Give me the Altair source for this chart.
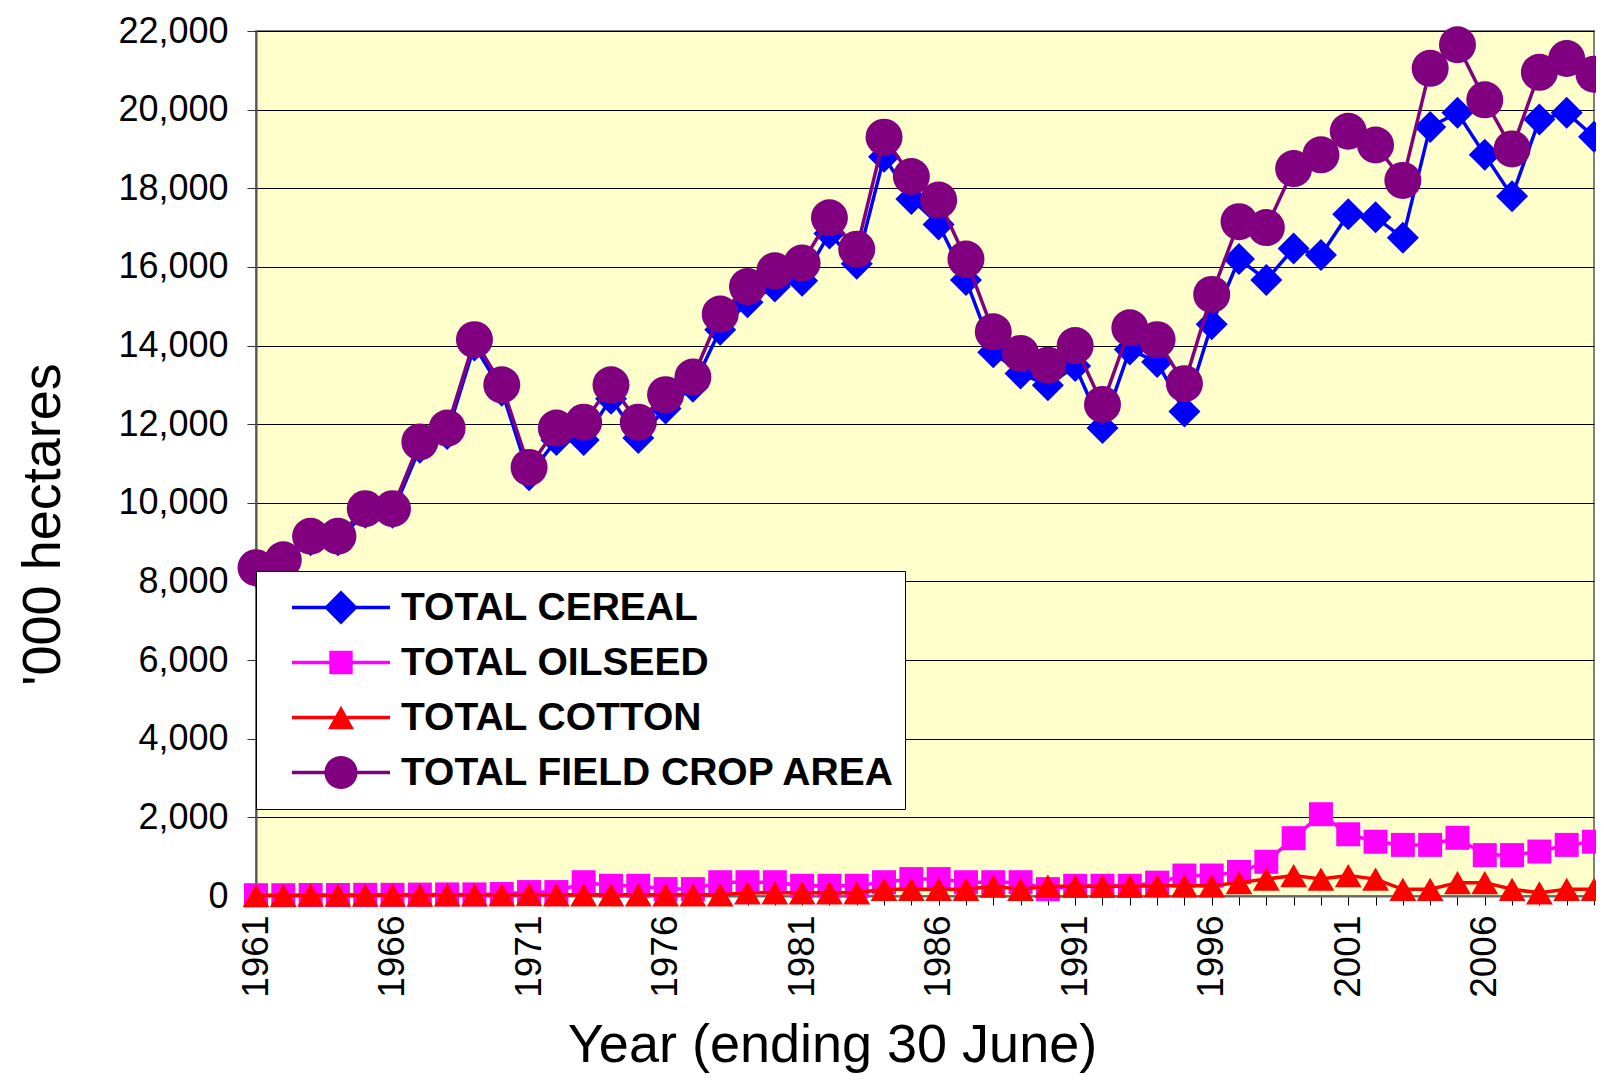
import math
import altair as alt
import pandas as pd

years = list(range(1961, 2011))

cereal = [8250, 8450, 9050, 9050, 9750, 9750, 11400, 11750, 14000, 12850,
          10700, 11600, 11600, 12650, 11650, 12400, 12950, 14400, 15100, 15500,
          15650, 16850, 16080, 18800, 17730, 17080, 15670, 13830, 13290, 12990,
          13480, 11900, 13900, 13580, 12320, 14540, 16200, 15670, 16470, 16300,
          17340, 17260, 16740, 19560, 19920, 18850, 17800, 19750, 19920, 19310]

oilseed = [20, 20, 25, 25, 30, 30, 35, 40, 40, 50,
           100, 100, 350, 260, 260, 175, 175, 350, 350, 350,
           260, 260, 260, 350, 430, 430, 350, 350, 350, 175,
           260, 260, 260, 340, 520, 520, 610, 870, 1470, 2080,
           1570, 1380, 1300, 1300, 1480, 1040, 1040, 1130, 1300, 1380]

cotton = [10, 15, 20, 20, 20, 25, 25, 30, 30, 30,
          35, 30, 30, 30, 30, 30, 30, 30, 80, 80,
          80, 80, 80, 170, 170, 170, 170, 250, 170, 250,
          250, 250, 250, 260, 260, 260, 340, 430, 520, 430,
          520, 430, 170, 170, 340, 340, 170, 80, 170, 170]

field = [8350, 8550, 9150, 9150, 9850, 9850, 11550, 11900, 14150, 13000,
         10900, 11900, 12050, 13000, 12050, 12750, 13200, 14800, 15500, 15900,
         16100, 17250, 16450, 19300, 18300, 17700, 16200, 14350, 13800, 13500,
         14000, 12500, 14450, 14150, 13030, 15300, 17150, 17000, 18500, 18850,
         19450, 19100, 18200, 21050, 21650, 20250, 19000, 20950, 21300, 20900]

series_names = ["TOTAL CEREAL", "TOTAL OILSEED", "TOTAL COTTON", "TOTAL FIELD CROP AREA"]
series_colors = ["#0000FF", "#FF00FF", "#FF0000", "#800080"]
y_ticks = list(range(0, 22001, 2000))

rows = []
for name, vals in zip(series_names, [cereal, oilseed, cotton, field]):
    for yr, v in zip(years, vals):
        rows.append({"year": yr, "value": v, "series": name})
df = pd.DataFrame(rows)

FONT = "Liberation Sans"
BG = "#FFFFCC"

# ---- legend symbols: line + marker as one custom path (unit square coords) ----
LX0, LX1, T = -0.585, 0.923, 0.026
CX = 0.169


def f(v):
    return f"{v:.4f}"


line_path = f"M{f(LX0)},{f(-T)}L{f(LX1)},{f(-T)}L{f(LX1)},{f(T)}L{f(LX0)},{f(T)}Z"
d = 0.26
diamond_p = f"M{f(CX)},{f(-d)}L{f(CX + d)},0L{f(CX)},{f(d)}L{f(CX - d)},0Z"
s = 0.18
square_p = f"M{f(CX - s)},{f(-s)}L{f(CX + s)},{f(-s)}L{f(CX + s)},{f(s)}L{f(CX - s)},{f(s)}Z"
tr, th = 0.2, 0.18
triangle_p = f"M{f(CX)},{f(-th)}L{f(CX + tr)},{f(th)}L{f(CX - tr)},{f(th)}Z"
rc = 0.255
pts = []
for k in range(36):
    a = 2 * math.pi * k / 36
    pts.append(f"{f(CX + rc * math.cos(a))},{f(rc * math.sin(a))}")
circle_p = "M" + "L".join(pts) + "Z"
legend_paths = [line_path + diamond_p, line_path + square_p,
                line_path + triangle_p, line_path + circle_p]

x_axis = alt.Axis(
    values=years, format="d",
    labelExpr="(datum.value - 1961) % 5 == 0 ? datum.label : ''",
    labelOverlap=False, labelFlush=False,
    labelAngle=270, labelAlign="right", labelBaseline="middle",
    labelFont=FONT, labelFontSize=37, labelColor="black", labelPadding=10,
    tickSize=9, tickColor="black", tickWidth=1,
    domainColor="#666666", domainWidth=2, grid=False,
    title="Year (ending 30 June)", titleFont=FONT, titleFontSize=54,
    titleFontWeight="normal", titleColor="black",
    titleX=576, titleY=165, titleAlign="center", titleBaseline="alphabetic",
)
y_axis = alt.Axis(
    values=y_ticks, format=",d",
    labelFont=FONT, labelFontSize=36, labelColor="black", labelPadding=19,
    tickSize=9, tickColor="#333333", tickWidth=1,
    domainColor="#555555", domainWidth=2,
    grid=True, gridColor="black", gridWidth=1,
    title="'000 hectares", titleFont=FONT, titleFontSize=54,
    titleFontWeight="normal", titleColor="black",
    titleAngle=270, titleX=-213, titleY=493, titleAlign="center", titleBaseline="middle",
)

base = alt.Chart(df).encode(
    x=alt.X("year:Q", scale=alt.Scale(domain=[1961, 2010], nice=False, zero=False), axis=x_axis),
    y=alt.Y("value:Q", scale=alt.Scale(domain=[0, 22000], nice=False), axis=y_axis),
)

shapes = ["diamond", "square", "triangle-up", "circle"]
sizes = [1024, 576, 720, 1369]

layers = []
for name, color, shp, sz in zip(series_names, series_colors, shapes, sizes):
    src = base.transform_filter(alt.datum.series == name)
    layers.append(src.mark_line(color=color, strokeWidth=3.5))
    layers.append(src.mark_point(filled=True, shape=shp, size=sz, color=color,
                                 opacity=1, strokeWidth=0))

legend_obj = alt.Legend(
    title=None, orient="none", legendX=0, legendY=540, direction="vertical",
    fillColor="white", strokeColor="black", padding=9,
    labelFont=FONT, labelFontSize=39, labelFontWeight="bold", labelColor="black",
    labelLimit=800, labelOffset=6, symbolSize=16900, clipHeight=55, rowPadding=0,
    symbolStrokeWidth=0, symbolOpacity=1,
)

legend_layer = base.transform_filter("datum.year < 0").mark_point(
    filled=True, opacity=1, size=16900, strokeWidth=0
).encode(
    color=alt.Color("series:N", scale=alt.Scale(domain=series_names, range=series_colors),
                    legend=legend_obj),
    shape=alt.Shape("series:N", scale=alt.Scale(domain=series_names, range=legend_paths),
                    legend=legend_obj),
)
layers.append(legend_layer)

chart = alt.layer(*layers).properties(
    width=1338, height=865,
    autosize=alt.AutoSizeParams(type="none"),
    padding={"left": 248, "top": 23, "right": 2, "bottom": 177},
    view=alt.ViewBackground(fill=BG, stroke="#808080", strokeWidth=2),
).configure_view(
    fill=BG, stroke="#808080", strokeWidth=2,
).configure(font=FONT)

chart.save("out.html", embed_options={"renderer": "svg", "actions": False})
